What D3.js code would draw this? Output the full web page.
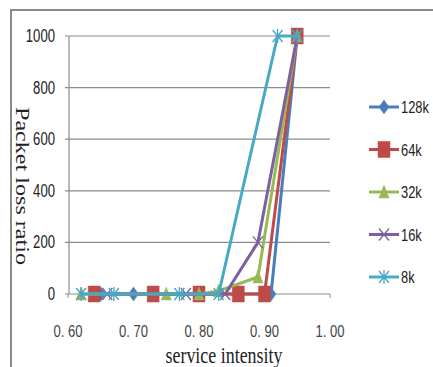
<!DOCTYPE html>
<html>
<head>
<meta charset="utf-8">
<script src="https://cdn.jsdelivr.net/npm/d3@7/dist/d3.min.js"></script>
<style>
  body { margin: 0; background: #fff; }
  text { fill: #222; }
</style>
</head>
<body>
<div id="chart"></div>
<script>
// tick values
const xTicks = [0.6, 0.7, 0.8, 0.9, 1.0];
const yTicks = [0, 200, 400, 600, 800, 1000];

// series
const seriesNames = ['128k', '64k', '32k', '16k', '8k'];
const x128k = [0.65, 0.70, 0.80, 0.86, 0.91, 0.95];
const y128k = [0, 0, 0, 0, 0, 1000];
const x64k = [0.64, 0.73, 0.80, 0.86, 0.90, 0.95];
const y64k = [0, 0, 0, 0, 0, 1000];
const x32k = [0.62, 0.75, 0.80, 0.83, 0.89, 0.95];
const y32k = [0, 0, 0, 12, 66, 1000];
const x16k = [0.66, 0.78, 0.84, 0.89, 0.95];
const y16k = [0, 0, 0, 200, 1000];
const x8k = [0.62, 0.67, 0.77, 0.83, 0.92, 0.95];
const y8k = [0, 0, 0, 0, 1000, 1000];

const colors = ['#4A7EBB', '#BE4B48', '#98B954', '#7D60A0', '#46AAC5'];
const markerTypes = ['diamond', 'square', 'triangle', 'x', 'star'];

const series = [
  [x128k, y128k], [x64k, y64k], [x32k, y32k], [x16k, y16k], [x8k, y8k]
].map((s, i) => ({
  name: seriesNames[i],
  color: colors[i],
  marker: markerTypes[i],
  points: s[0].map((v, j) => [v, s[1][j]])
}));

const width = 433, height = 367;
const narrow = '"Liberation Sans", Arial, sans-serif';

const svg = d3.select('#chart')
  .append('svg')
  .attr('width', width)
  .attr('height', height);

// outer frame (only top and left visible)
svg.append('path')
  .attr('d', 'M11,367 L11,10 L433,10')
  .attr('fill', 'none')
  .attr('stroke', '#8a8a8a')
  .attr('stroke-width', 2);

const x = d3.scaleLinear().domain([0.6, 1.0]).range([68, 330]);
const y = d3.scaleLinear().domain([0, 1000]).range([294, 36]);

// gridlines
svg.append('g')
  .selectAll('line')
  .data(yTicks).enter()
  .append('line')
  .attr('x1', 65)
  .attr('x2', x(1.0))
  .attr('y1', d => y(d))
  .attr('y2', d => y(d))
  .attr('stroke', '#8c8c8c')
  .attr('stroke-width', 1.2);

// vertical axis line
svg.append('line')
  .attr('x1', x(0.6) + 1).attr('x2', x(0.6) + 1)
  .attr('y1', y(1000)).attr('y2', y(0))
  .attr('stroke', '#8c8c8c')
  .attr('stroke-width', 1.2);

// x tick marks
svg.append('g')
  .selectAll('line')
  .data(xTicks).enter()
  .append('line')
  .attr('x1', d => x(d)).attr('x2', d => x(d))
  .attr('y1', y(0)).attr('y2', y(0) + 4)
  .attr('stroke', '#8c8c8c');

// y tick labels
svg.append('g')
  .selectAll('text')
  .data(yTicks).enter()
  .append('text')
  .attr('x', 55)
  .attr('y', d => y(d) + 6)
  .attr('text-anchor', 'end')
  .attr('textLength', d => String(d).length * 7.3)
  .attr('lengthAdjust', 'spacingAndGlyphs')
  .style('font-family', narrow)
  .style('font-size', '18px')
  .text(d => d);

// x tick labels
const fmt = d3.format('.2f');
svg.append('g')
  .selectAll('text')
  .data(xTicks).enter()
  .append('text')
  .attr('x', d => x(d))
  .attr('y', 337)
  .attr('text-anchor', 'middle')
  .attr('textLength', 29)
  .attr('lengthAdjust', 'spacingAndGlyphs')
  .style('font-family', narrow)
  .style('font-size', '16px')
  .style('fill', '#444')
  .text(d => fmt(d).replace('.', '. '));

// axis titles
svg.append('text')
  .attr('x', 224)
  .attr('y', 363)
  .attr('text-anchor', 'middle')
  .attr('textLength', 117)
  .attr('lengthAdjust', 'spacingAndGlyphs')
  .style('font-family', '"Liberation Serif", "DejaVu Serif", serif')
  .style('font-size', '23px')
  .text('service intensity');

svg.append('text')
  .attr('transform', 'translate(16,186) rotate(90)')
  .attr('text-anchor', 'middle')
  .attr('textLength', 158)
  .attr('lengthAdjust', 'spacingAndGlyphs')
  .style('font-family', '"Liberation Serif", "DejaVu Serif", serif')
  .style('font-size', '18px')
  .text('Packet loss ratio');

// marker shapes
function markerPath(type) {
  switch (type) {
    case 'diamond': return 'M0,-7 L5,0 L0,7 L-5,0 Z';
    case 'square': return 'M-6,-8 L6,-8 L6,8 L-6,8 Z';
    case 'triangle': return 'M0,-7 L5,6 L-5,6 Z';
    case 'x': return 'M-5,-6 L5,6 M-5,6 L5,-6';
    case 'star': return 'M-5,-6 L5,6 M-5,6 L5,-6 M0,-7 L0,7';
  }
}
function drawMarker(g, type, color) {
  const filled = type === 'diamond' || type === 'square' || type === 'triangle';
  g.append('path')
    .attr('d', markerPath(type))
    .attr('fill', filled ? color : 'none')
    .attr('stroke', color)
    .attr('stroke-width', filled ? 0.5 : 1.3);
}

const line = d3.line()
  .x(d => x(d[0]))
  .y(d => y(d[1]));

series.forEach(s => {
  const g = svg.append('g');
  g.append('path')
    .datum(s.points)
    .attr('d', line)
    .attr('fill', 'none')
    .attr('stroke', s.color)
    .attr('stroke-width', 3)
    .attr('stroke-linejoin', 'round');
  s.points.forEach(p => {
    const m = g.append('g')
      .attr('transform', `translate(${x(p[0])},${y(p[1])})`);
    drawMarker(m, s.marker, s.color);
  });
});

// legend
const legend = svg.append('g')
  .selectAll('g')
  .data(series).enter()
  .append('g')
  .attr('transform', (d, i) => `translate(369,${107 + i * 42.5})`);

legend.append('line')
  .attr('x1', 0).attr('x2', 30)
  .attr('stroke', d => d.color)
  .attr('stroke-width', 3);

legend.each(function(d) {
  const m = d3.select(this).append('g').attr('transform', 'translate(15,0)');
  drawMarker(m, d.marker, d.color);
});

// narrow look: squeeze the text horizontally
legend.append('text')
  .attr('transform', 'translate(32,6) scale(0.76,1)')
  .style('font-family', narrow)
  .style('font-size', '17px')
  .text(d => d.name);
</script>
</body>
</html>
